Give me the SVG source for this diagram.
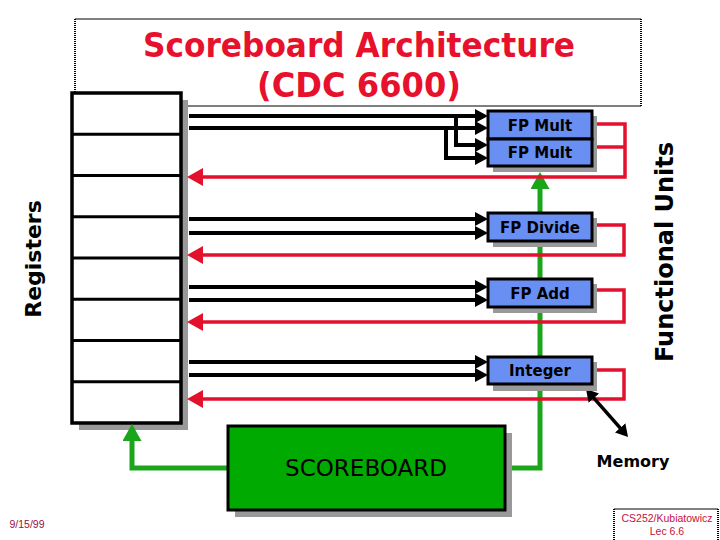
<svg xmlns="http://www.w3.org/2000/svg" width="720" height="540" viewBox="0 0 720 540">
<style>
.title{font-family:"DejaVu Sans",sans-serif;font-weight:bold;font-size:33px;fill:#e8112d;text-anchor:middle}
.fu{fill:#6a8ff2;stroke:#000;stroke-width:3}
.shadow{fill:#999}
.fut{font-family:"DejaVu Sans",sans-serif;font-weight:bold;font-size:15px;fill:#000;text-anchor:middle}
.blk{fill:none;stroke:#000;stroke-width:4;marker-end:url(#ab)}
.red{fill:none;stroke:#e3112c;stroke-width:3.5}
.grn{fill:none;stroke:#1aa51a;stroke-width:5}
.lbl{font-family:"DejaVu Sans",sans-serif;font-weight:bold;fill:#000;text-anchor:middle}
.foot{font-family:"Liberation Sans",sans-serif;font-size:10.5px;text-anchor:middle}
</style>
<defs>
<marker id="ab" markerUnits="userSpaceOnUse" markerWidth="14" markerHeight="14" refX="5" refY="7" orient="auto"><path d="M0,0 L13,7 L0,14 z" fill="#000"/></marker>
<marker id="ar" markerUnits="userSpaceOnUse" markerWidth="17" markerHeight="18" refX="6" refY="9" orient="auto"><path d="M0,0 L16,9 L0,18 z" fill="#e3112c"/></marker>
<marker id="ag" markerUnits="userSpaceOnUse" markerWidth="19" markerHeight="19" refX="6" refY="9.5" orient="auto"><path d="M0,0 L17,9.5 L0,19 z" fill="#1aa51a"/></marker>
<marker id="am" markerUnits="userSpaceOnUse" markerWidth="13" markerHeight="14" refX="5" refY="7" orient="auto-start-reverse"><path d="M0,0 L12,7 L0,14 z" fill="#000"/></marker>
</defs>
<rect width="720" height="540" fill="#fff"/>

<g id="title">
<line x1="75" y1="19" x2="641" y2="19" stroke="#000" stroke-width="1"/>
<line x1="75" y1="106" x2="641" y2="106" stroke="#000" stroke-width="1.2"/>
<line x1="75" y1="19" x2="75" y2="106" stroke="#000" stroke-width="2" stroke-dasharray="1,1"/>
<line x1="641" y1="19" x2="641" y2="106" stroke="#000" stroke-width="2" stroke-dasharray="1,1"/>
<text class="title" x="359" y="57" textLength="432" lengthAdjust="spacingAndGlyphs">Scoreboard Architecture</text>
<text class="title" x="359" y="97" textLength="204" lengthAdjust="spacingAndGlyphs">(CDC 6600)</text>
</g>

<g id="registers">
<rect x="79" y="100" width="109" height="330" class="shadow"/>
<rect x="72" y="93" width="109" height="330" fill="#fff" stroke="#000" stroke-width="3.5"/>
<g stroke="#000" stroke-width="3">
<line x1="72" y1="134.25" x2="181" y2="134.25"/>
<line x1="72" y1="175.5" x2="181" y2="175.5"/>
<line x1="72" y1="216.75" x2="181" y2="216.75"/>
<line x1="72" y1="258" x2="181" y2="258"/>
<line x1="72" y1="299.25" x2="181" y2="299.25"/>
<line x1="72" y1="340.5" x2="181" y2="340.5"/>
<line x1="72" y1="381.75" x2="181" y2="381.75"/>
</g>
</g>

<g id="connectors">
<path class="grn" d="M505,468 H540 V183" marker-end="url(#ag)"/>
<path class="grn" d="M228,468 H132 V435" marker-end="url(#ag)"/>
<path class="blk" d="M189,116 H480"/>
<path class="blk" d="M189,128 H480"/>
<path class="blk" d="M456,116 V145 H480"/>
<path class="blk" d="M446,128 V158 H480"/>
<path class="blk" d="M189,219 H480"/>
<path class="blk" d="M189,233 H480"/>
<path class="blk" d="M189,287 H480"/>
<path class="blk" d="M189,300 H480"/>
<path class="blk" d="M189,362 H480"/>
<path class="blk" d="M189,375 H480"/>
<path class="red" d="M592,124 H625 V177 H197" marker-end="url(#ar)"/>
<path class="red" d="M592,147 H625"/>
<path class="red" d="M592,225 H624 V255 H197" marker-end="url(#ar)"/>
<path class="red" d="M592,290 H624 V322 H197" marker-end="url(#ar)"/>
<path class="red" d="M592,370 H624 V399 H197" marker-end="url(#ar)"/>
<line x1="590.6" y1="394.3" x2="623.4" y2="431.7" stroke="#000" stroke-width="3.5" marker-start="url(#am)" marker-end="url(#am)"/>
</g>

<g id="fp-mult">
<rect x="493" y="116" width="104" height="56" class="shadow"/>
<rect x="488" y="111" width="104" height="28" class="fu"/>
<rect x="488" y="139" width="104" height="27" class="fu"/>
<text class="fut" x="540" y="131">FP Mult</text>
<text class="fut" x="540" y="158">FP Mult</text>
</g>

<g id="fp-divide">
<rect x="493" y="218" width="104" height="29" class="shadow"/>
<rect x="488" y="213" width="104" height="28" class="fu"/>
<text class="fut" x="540" y="233">FP Divide</text>
</g>

<g id="fp-add">
<rect x="493" y="284" width="104" height="29" class="shadow"/>
<rect x="488" y="279" width="104" height="28" class="fu"/>
<text class="fut" x="540" y="299">FP Add</text>
</g>

<g id="integer">
<rect x="493" y="362" width="104" height="29" class="shadow"/>
<rect x="488" y="357" width="104" height="27" class="fu"/>
<text class="fut" x="540" y="376">Integer</text>
</g>

<g id="scoreboard">
<rect x="235" y="433" width="277" height="84" class="shadow"/>
<rect x="228" y="426" width="277" height="84" fill="#00aa00" stroke="#000" stroke-width="3"/>
<text x="366" y="476" font-family="DejaVu Sans, sans-serif" font-size="23" fill="#000" text-anchor="middle">SCOREBOARD</text>
</g>

<g id="labels">
<text class="lbl" font-size="22" transform="translate(41,259) rotate(-90)">Registers</text>
<text class="lbl" font-size="24" transform="translate(673,252) rotate(-90)">Functional Units</text>
<text class="lbl" font-size="16" x="633" y="467">Memory</text>
</g>

<g id="footer">
<text x="27" y="528" class="foot" fill="#9b1040">9/15/99</text>
<line x1="614" y1="509" x2="718" y2="509" stroke="#000" stroke-width="1"/>
<line x1="614" y1="509" x2="614" y2="540" stroke="#000" stroke-width="2" stroke-dasharray="1,1"/>
<line x1="718" y1="509" x2="718" y2="540" stroke="#000" stroke-width="2" stroke-dasharray="1,1"/>
<text x="667" y="522" class="foot" fill="#c8103a">CS252/Kubiatowicz</text>
<text x="667" y="535" class="foot" fill="#c8103a">Lec 6.6</text>
</g>
</svg>
